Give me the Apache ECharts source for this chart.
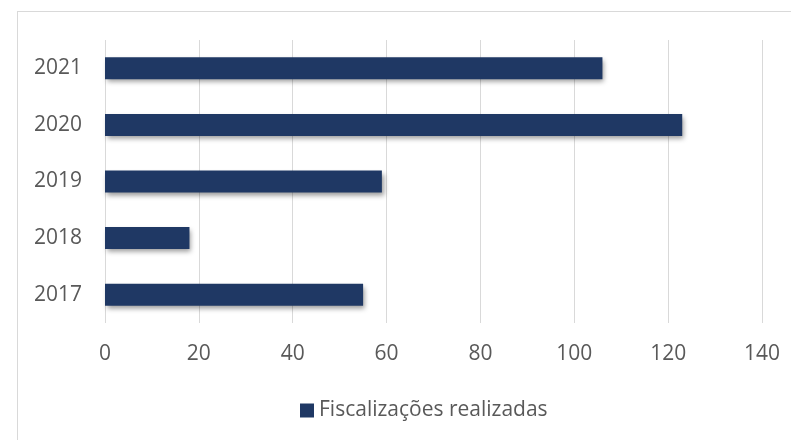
<!DOCTYPE html>
<html>
<head>
<meta charset="utf-8">
<script src="https://cdn.jsdelivr.net/npm/echarts@6/dist/echarts.min.js"></script>
<style>
  html, body { margin: 0; padding: 0; background: #fff; overflow: hidden; }
  #frame { position: absolute; left: 17px; top: 11px; width: 900px; height: 600px; border: 1px solid #d9d9d9; }
  #chart { position: absolute; left: 0; top: 0; width: 791px; height: 440px; }
</style>
</head>
<body>
<div id="frame"></div>
<div id="chart"></div>
<script>
const years = ["2017", "2018", "2019", "2020", "2021"];
const fiscalizacoes = [55, 18, 59, 123, 106];
const seriesName = "Fiscalizações realizadas";

const myChart = echarts.init(document.getElementById("chart"));
const labelFont = { color: "#595959", fontSize: 21, fontFamily: "Open Sans" };
const option = {
  animation: false,
  grid: { left: 105, right: 29, top: 40, height: 283, containLabel: false },
  legend: {
    data: [seriesName],
    left: 295,
    top: 395,
    itemWidth: 14,
    itemHeight: 14,
    icon: "rect",
    itemGap: 6,
    textStyle: labelFont
  },
  xAxis: {
    type: "value",
    min: 0,
    max: 140,
    interval: 20,
    axisLine: { show: false },
    axisTick: { show: false },
    splitLine: { lineStyle: { color: "#d9d9d9", width: 1 } },
    axisLabel: Object.assign({ margin: 21 }, labelFont)
  },
  yAxis: {
    type: "category",
    data: years,
    axisLine: { show: false },
    axisTick: { show: false },
    axisLabel: Object.assign({ margin: 23 }, labelFont)
  },
  series: [
    {
      name: seriesName,
      type: "bar",
      data: fiscalizacoes,
      barWidth: 22,
      itemStyle: {
        color: "#1f3864",
        shadowColor: "rgba(0,0,0,0.4)",
        shadowBlur: 5,
        shadowOffsetX: 2,
        shadowOffsetY: 3
      }
    }
  ]
};
option && myChart.setOption(option);
window.addEventListener("resize", myChart.resize);
</script>
</body>
</html>
